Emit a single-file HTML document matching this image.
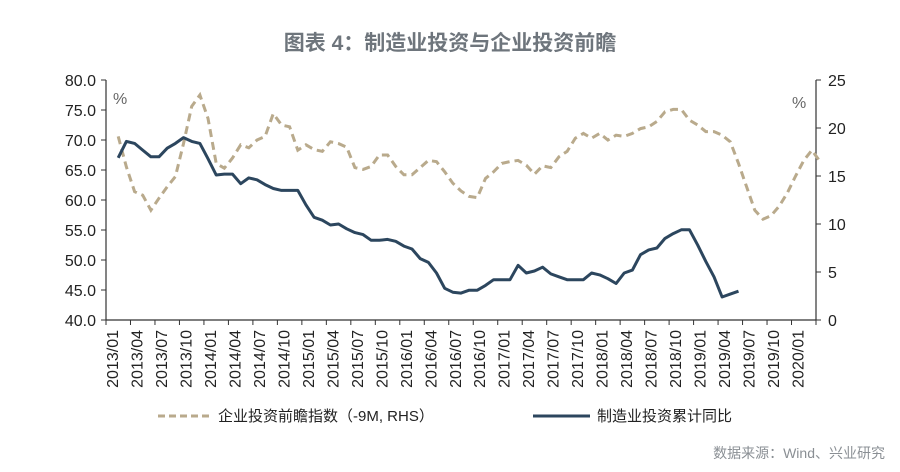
<!DOCTYPE html>
<html><head><meta charset="utf-8">
<style>
body{margin:0;background:#fff;}
svg{display:block;font-family:"Liberation Sans","Noto Sans CJK SC",sans-serif;}
</style></head>
<body>
<svg id="chart" width="900" height="472" viewBox="0 0 900 472">
<text x="450" y="50" text-anchor="middle" font-size="21" font-weight="bold" fill="#6e757c">图表 4：制造业投资与企业投资前瞻</text>
<text x="113" y="104" font-size="16" fill="#666">%</text>
<text x="792" y="108" font-size="16" fill="#666">%</text>
<g id="axes"></g>
<g id="series"></g>
<g>
<line x1="158" y1="416" x2="213" y2="416" stroke="#b9aa8c" stroke-width="3" stroke-dasharray="7,4"/>
<text x="218" y="421" font-size="15" fill="#222">企业投资前瞻指数（-9M, RHS）</text>
<line x1="533" y1="416" x2="590" y2="416" stroke="#2c465e" stroke-width="3"/>
<text x="597" y="421" font-size="15" fill="#222">制造业投资累计同比</text>
</g>
<text x="885" y="458" text-anchor="end" font-size="14" fill="#8a8f94">数据来源：Wind、兴业研究</text>
</svg>
<script>
const tickLabels = ["2013/01","2013/04","2013/07","2013/10","2014/01","2014/04","2014/07","2014/10","2015/01","2015/04","2015/07","2015/10","2016/01","2016/04","2016/07","2016/10","2017/01","2017/04","2017/07","2017/10","2018/01","2018/04","2018/07","2018/10","2019/01","2019/04","2019/07","2019/10","2020/01"];
const leftTicks = [40,45,50,55,60,65,70,75,80];
const rightTicks = [0,5,10,15,20,25];
const mfgStart = 1;
const mfgValues = [16.9,18.6,18.4,17.7,17.0,17.0,17.9,18.4,19.0,18.6,18.4,16.8,15.1,15.2,15.2,14.2,14.8,14.6,14.1,13.7,13.5,13.5,13.5,12.0,10.7,10.4,9.9,10.0,9.5,9.1,8.9,8.3,8.3,8.4,8.2,7.7,7.4,6.4,6.0,4.9,3.3,2.9,2.8,3.1,3.1,3.6,4.2,4.2,4.2,5.7,4.9,5.1,5.5,4.8,4.5,4.2,4.2,4.2,4.9,4.7,4.3,3.8,4.9,5.2,6.8,7.3,7.5,8.5,9.0,9.4,9.4,7.8,6.1,4.5,2.4,2.7,3.0];
const idxStart = 1;
const idxValues = [70.6,65.5,61.4,60.8,58.3,60.3,62.2,63.9,69.4,75.6,77.5,73.6,66.1,65.3,67.0,69.2,68.7,70.0,70.6,74.4,72.5,72.2,68.3,69.2,68.4,68.1,69.7,69.4,68.8,65.4,65.1,65.6,67.5,67.5,65.6,64.2,64.2,65.4,66.6,66.4,64.7,62.8,61.5,60.6,60.4,63.6,64.7,66.1,66.4,66.6,65.8,64.3,65.7,65.4,67.2,68.1,70.3,71.1,70.3,71.1,70.0,70.8,70.6,71.1,71.9,72.2,73.1,74.7,75.1,75.1,73.3,72.5,71.4,71.4,70.8,69.7,66.1,62.2,58.3,56.8,57.4,59.0,61.2,64.0,66.6,68.3,66.4];

const X0=106, X1=816, Y0=320, Y1=80, N=87;
const mw=(X1-X0)/N;
const xOf=i=>X0+mw*(i+0.5);
const yL=v=>Y0-(v-40)/40*(Y0-Y1);
const yR=v=>Y0-v/25*(Y0-Y1);
const NS="http://www.w3.org/2000/svg";
const axes=document.getElementById('axes'), series=document.getElementById('series');
function mk(tag,attrs,parent){const e=document.createElementNS(NS,tag);for(const k in attrs)e.setAttribute(k,attrs[k]);parent.appendChild(e);return e;}

let e=mk('line',{x1:X0,y1:Y1,x2:X0,y2:Y0,stroke:'#333','stroke-width':1.2},axes);


e=mk('line',{x1:X1,y1:Y1,x2:X1,y2:Y0,stroke:'#333','stroke-width':1.2},axes);


e=mk('line',{x1:X0,y1:Y0,x2:X1,y2:Y0,stroke:'#333','stroke-width':1.2},axes);



leftTicks.forEach(v=>{
  mk('line',{x1:X0-5,y1:yL(v),x2:X0,y2:yL(v),stroke:'#333'},axes);
  const t=mk('text',{x:X0-10,y:yL(v)+6,'text-anchor':'end','font-size':16,fill:'#222'},axes);
  t.textContent=v.toFixed(1);
  
  
});
rightTicks.forEach(v=>{
  mk('line',{x1:X1,y1:yR(v),x2:X1+5,y2:yR(v),stroke:'#333'},axes);
  const t=mk('text',{x:X1+12,y:yR(v)+6,'font-size':16,fill:'#222'},axes);
  t.textContent=v;
  
  
});
tickLabels.forEach((s,k)=>{
  const x=X0+k*3*mw;
  mk('line',{x1:x,y1:Y0,x2:x,y2:Y0+5,stroke:'#333'},axes);
  const t=mk('text',{x:0,y:0,'text-anchor':'end','font-size':16,fill:'#222',transform:`translate(${x+12},${Y0+10}) rotate(-90)`},axes);
  t.textContent=s;
  
  
});
mk('line',{x1:X1,y1:Y0,x2:X1,y2:Y0+5,stroke:'#333'},axes);

const pIdxL=idxValues.map((v,i)=>xOf(i+idxStart).toFixed(1)+','+yL(v).toFixed(1));
e=mk('polyline',{points:pIdxL.join(' '),fill:'none',stroke:'#b9aa8c','stroke-width':3,'stroke-dasharray':'8,5'},series);


const pM=mfgValues.map((v,i)=>xOf(i+mfgStart).toFixed(1)+','+yR(v).toFixed(1));
e=mk('polyline',{points:pM.join(' '),fill:'none',stroke:'#2c465e','stroke-width':3,'stroke-linejoin':'round'},series);


</script>
</body></html>
